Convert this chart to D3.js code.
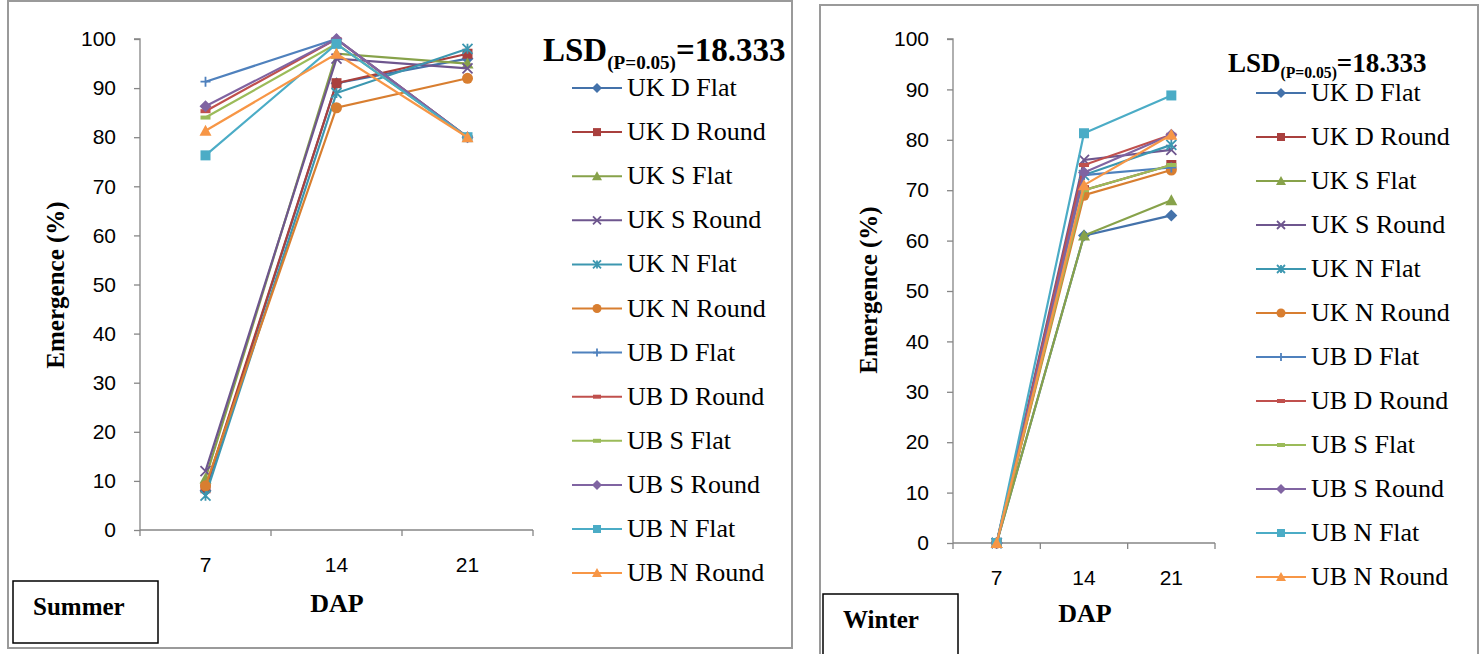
<!DOCTYPE html>
<html>
<head>
<meta charset="utf-8">
<script src="https://cdn.jsdelivr.net/npm/d3@7"></script>
<style>
  html, body { margin: 0; padding: 0; background: #fff; }
  svg { display: block; }
  .serif { font-family: "Liberation Serif", "Times New Roman", "DejaVu Serif", serif; }
  .sans { font-family: "Liberation Sans", Arial, sans-serif; }
</style>
</head>
<body>
<svg id="chart" width="1482" height="654"></svg>
<script>
// Days after planting (x categories)
const days = ["7", "14", "21"];
const yTicks = [0, 10, 20, 30, 40, 50, 60, 70, 80, 90, 100];

const seriesNames = [
  "UK D Flat", "UK D Round", "UK S Flat", "UK S Round", "UK N Flat", "UK N Round",
  "UB D Flat", "UB D Round", "UB S Flat", "UB S Round", "UB N Flat", "UB N Round"
];

// Emergence (%) at 7, 14, 21 DAP — summer sowing
const summerValues = [
  [8, 91, 96],
  [8.5, 91, 97],
  [10.5, 97, 95],
  [12, 96, 94],
  [7, 89, 98],
  [9, 86, 92],
  [91.3, 100, 80],
  [85.3, 100, 80],
  [84, 99, 80],
  [86.3, 100, 80],
  [76.3, 99, 80],
  [81.3, 97, 80]
];

// Emergence (%) at 7, 14, 21 DAP — winter sowing
const winterValues = [
  [0, 61, 65],
  [0, 70, 75],
  [0, 61, 68],
  [0, 76, 78],
  [0, 73, 79],
  [0, 69, 74],
  [0, 73, 74.5],
  [0, 75, 81],
  [0, 70, 75],
  [0, 73.5, 81],
  [0, 81.3, 88.8],
  [0, 71, 81]
];

const seriesColors = [
  "#4472AA", "#A9403E", "#87A24A", "#6E568E", "#3C97B0", "#D87E30",
  "#4F81BD", "#C0504D", "#9BBB59", "#8064A2", "#4BACC6", "#F79646"
];
const seriesMarkers = [
  "diamond", "square", "triangle", "x", "star", "circle",
  "plus", "dash", "dash", "diamond", "square", "triangle"
];

const lsdLabel = { main: "LSD", sub: "(P=0.05)", tail: "=18.333" };

const svg = d3.select("#chart");

function drawMarker(g, type, x, y, color, s) {
  const h = s / 2;
  if (type === "diamond") {
    g.append("path").attr("d", `M${x},${y - h - 1}L${x + h + 1},${y}L${x},${y + h + 1}L${x - h - 1},${y}Z`)
      .attr("fill", color);
  } else if (type === "square") {
    g.append("rect").attr("x", x - h).attr("y", y - h).attr("width", s).attr("height", s).attr("fill", color);
  } else if (type === "triangle") {
    g.append("path").attr("d", `M${x},${y - h - 1}L${x + h + 1},${y + h}L${x - h - 1},${y + h}Z`)
      .attr("fill", color);
  } else if (type === "circle") {
    g.append("circle").attr("cx", x).attr("cy", y).attr("r", h + 0.5).attr("fill", color);
  } else if (type === "x") {
    g.append("path").attr("d", `M${x - h},${y - h}L${x + h},${y + h}M${x - h},${y + h}L${x + h},${y - h}`)
      .attr("stroke", color).attr("stroke-width", 1.8).attr("fill", "none");
  } else if (type === "star") {
    g.append("path").attr("d", `M${x - h},${y - h}L${x + h},${y + h}M${x - h},${y + h}L${x + h},${y - h}M${x},${y - h}L${x},${y + h}`)
      .attr("stroke", color).attr("stroke-width", 1.8).attr("fill", "none");
  } else if (type === "plus") {
    g.append("path").attr("d", `M${x - h},${y}L${x + h},${y}M${x},${y - h}L${x},${y + h}`)
      .attr("stroke", color).attr("stroke-width", 1.8).attr("fill", "none");
  } else if (type === "dash") {
    g.append("rect").attr("x", x - h).attr("y", y - 2).attr("width", s).attr("height", 4).attr("fill", color);
  }
}

function drawPanel(cfg) {
  const g = svg.append("g");

  // Panel frame
  g.append("rect").attr("x", cfg.frame[0]).attr("y", cfg.frame[1])
    .attr("width", cfg.frame[2]).attr("height", cfg.frame[3])
    .attr("fill", "none").attr("stroke", "#9a9a9a").attr("stroke-width", 2);

  const x = d3.scaleBand().domain(days).range([cfg.x0, cfg.x1]);
  const y = d3.scaleLinear().domain([0, 100]).range([cfg.y0, cfg.y1]);

  // Y axis
  const yAxis = d3.axisLeft(y).tickValues(yTicks).tickSize(6).tickPadding(18);
  const ya = g.append("g").attr("transform", `translate(${cfg.x0},0)`).call(yAxis);
  ya.attr("font-family", null).attr("font-size", null);
  ya.select(".domain").attr("stroke", "#868686").attr("stroke-width", 1.3).attr("d", `M-6,${cfg.y1}H0V${cfg.y0}`);
  ya.selectAll(".tick line").attr("stroke", "#868686").attr("stroke-width", 1.3);
  ya.selectAll(".tick text").attr("class", "sans").attr("font-size", 21).attr("fill", "#000");

  // X axis with ticks at category boundaries
  const xa = g.append("g").attr("transform", `translate(0,${cfg.y0})`);
  xa.append("line").attr("x1", cfg.x0).attr("x2", cfg.x1).attr("stroke", "#868686").attr("stroke-width", 1.3);
  const bounds = days.map(d => x(d)).concat([cfg.x1]);
  xa.selectAll("line.tk").data(bounds).join("line").attr("class", "tk")
    .attr("x1", d => d).attr("x2", d => d).attr("y1", 0).attr("y2", 6)
    .attr("stroke", "#868686").attr("stroke-width", 1.3);
  xa.selectAll("text").data(days).join("text").attr("class", "sans")
    .attr("x", d => x(d) + x.bandwidth() / 2).attr("y", cfg.xLabelDy)
    .attr("text-anchor", "middle").attr("font-size", 21).text(d => d);

  // Axis titles
  g.append("text").attr("class", "serif")
    .attr("transform", `translate(${cfg.yTitle[0]},${cfg.yTitle[1]}) rotate(-90)`)
    .attr("text-anchor", "middle").attr("font-weight", "bold")
    .attr("font-size", 25).text("Emergence (%)");
  g.append("text").attr("class", "serif").attr("x", cfg.xTitle[0]).attr("y", cfg.xTitle[1])
    .attr("text-anchor", "middle").attr("font-weight", "bold")
    .attr("font-size", 26).text("DAP");

  // Series lines and markers
  const line = d3.line().x((d, i) => x(days[i]) + x.bandwidth() / 2).y(d => y(d));
  cfg.values.forEach((vals, si) => {
    const sg = g.append("g");
    sg.append("path").attr("d", line(vals)).attr("fill", "none")
      .attr("stroke", seriesColors[si]).attr("stroke-width", 2.2);
    vals.forEach((v, i) => drawMarker(sg, seriesMarkers[si], x(days[i]) + x.bandwidth() / 2, y(v), seriesColors[si], 10));
  });

  // Legend
  const lg = g.append("g");
  seriesNames.forEach((name, si) => {
    const ly = cfg.legY + si * cfg.legStep;
    lg.append("line").attr("x1", cfg.legX).attr("x2", cfg.legX + 50).attr("y1", ly).attr("y2", ly)
      .attr("stroke", seriesColors[si]).attr("stroke-width", 2);
    drawMarker(lg, seriesMarkers[si], cfg.legX + 25, ly, seriesColors[si], 8);
    lg.append("text").attr("class", "serif").attr("x", cfg.legX + 55).attr("y", ly + 8)
      .attr("font-size", 26).text(name);
  });

  // LSD annotation
  const t = g.append("text").attr("class", "serif").attr("x", cfg.lsd[0]).attr("y", cfg.lsd[1])
    .attr("font-weight", "bold").attr("font-size", cfg.lsdSize);
  t.append("tspan").text(lsdLabel.main);
  t.append("tspan").attr("font-size", cfg.lsdSize * 0.58).attr("dy", cfg.lsdSize * 0.24).text(lsdLabel.sub);
  t.append("tspan").attr("dy", -cfg.lsdSize * 0.24).text(lsdLabel.tail);

  // Season box
  g.append("rect").attr("x", cfg.season[0]).attr("y", cfg.season[1])
    .attr("width", cfg.season[2]).attr("height", cfg.season[3])
    .attr("fill", "#fff").attr("stroke", "#000").attr("stroke-width", 1.5);
  g.append("text").attr("class", "serif").attr("x", cfg.season[0] + 20).attr("y", cfg.season[1] + 34)
    .attr("font-weight", "bold").attr("font-size", 25).text(cfg.seasonName);
}

drawPanel({
  values: summerValues,
  frame: [8, 1, 784, 647],
  x0: 140, x1: 533, y0: 530, y1: 39,
  xLabelDy: 42,
  yTitle: [64, 285], xTitle: [337, 612],
  legX: 572, legY: 88, legStep: 44.1,
  lsd: [543, 61], lsdSize: 33,
  season: [13, 581, 145, 62], seasonName: "Summer"
});

drawPanel({
  values: winterValues,
  frame: [820, 5, 658, 655],
  x0: 953, x1: 1215, y0: 543, y1: 39,
  xLabelDy: 42,
  yTitle: [877, 290], xTitle: [1085, 622],
  legX: 1256, legY: 93, legStep: 44,
  lsd: [1228, 72], lsdSize: 27,
  season: [823, 594, 135, 64], seasonName: "Winter"
});
</script>
</body>
</html>
